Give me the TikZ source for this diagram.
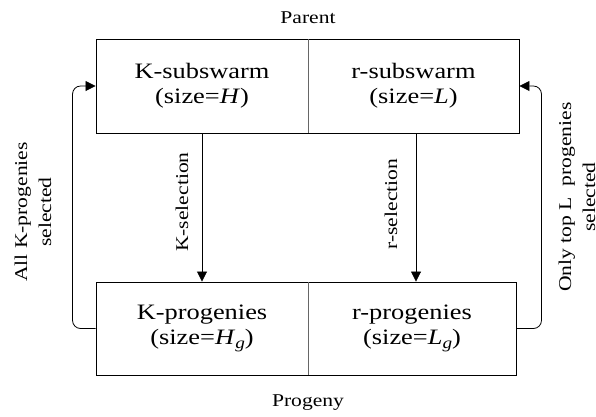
\documentclass[tikz,border=0pt]{standalone}
\usepackage{fontspec}
\setmainfont{Liberation Serif}[FakeStretch=1.2]
\usetikzlibrary{arrows.meta}
\tikzset{
  boxnode/.style={draw=black, line width=0.9pt, rectangle, inner sep=0pt, align=center,
    font=\fontsize{22}{25}\selectfont},
  lbl/.style={inner sep=0pt, align=center, font=\fontsize{18}{24}\selectfont},
  arr/.style={line width=0.8pt, -{Triangle[length=10pt,width=10pt]}},
  divider/.style={draw=black!60, line width=1.3pt},
}
\newcommand{\sub}[1]{\raisebox{-0.35ex}{\fontsize{16}{16}\selectfont\textit{#1}}}
\begin{document}
\begin{tikzpicture}[x=1pt,y=-1pt]
\useasboundingbox (0,0) rectangle (596,416);
% boxes
\node[boxnode, minimum width=212pt, minimum height=94pt] (kbox) at (202,86) {K-subswarm\\(size=\textit{H})};
\node[boxnode, minimum width=211pt, minimum height=94pt] (rbox) at (413.5,86) {r-subswarm\\(size=\textit{L})};
\node[boxnode, minimum width=212pt, minimum height=93pt] (kprog) at (202,328.5) {K-progenies\\(size=\textit{H}\sub{g})};
\node[boxnode, minimum width=208pt, minimum height=93pt] (rprog) at (412,328.5) {r-progenies\\(size=\textit{L}\sub{g})};
% dividers
\draw[divider] ([yshift=-0.6pt]kbox.north east) -- ([yshift=0.6pt]kbox.south east);
\draw[divider] ([yshift=-0.6pt]kprog.north east) -- ([yshift=0.6pt]kprog.south east);
% labels
\node[lbl] (parent) at (308,18) {Parent};
\node[lbl] (progeny) at (308,403) {Progeny};
\node[lbl, rotate=90] (ksel) at (182,202) {K-selection};
\node[lbl, rotate=90] (rsel) at (391,204) {r-selection};
\node[lbl, rotate=90] (allk) at (33,212) {All K-progenies\\selected};
\node[lbl, rotate=90] (onlyl) at (577,197) {Only top L\ \ progenies\\selected};
% arrows
\draw[arr] (kbox.south) -- (kprog.north);
\draw[arr] ([xshift=2.5pt]rbox.south) -- ([xshift=2.5pt]rbox.south |- rprog.north);
\draw[arr, rounded corners=8pt] (kprog.west) -- ++(-23,0) |- (kbox.west);
\draw[arr, rounded corners=8pt] (rprog.east) -- ++(25,0) |- (rbox.east);
\end{tikzpicture}
\end{document}
